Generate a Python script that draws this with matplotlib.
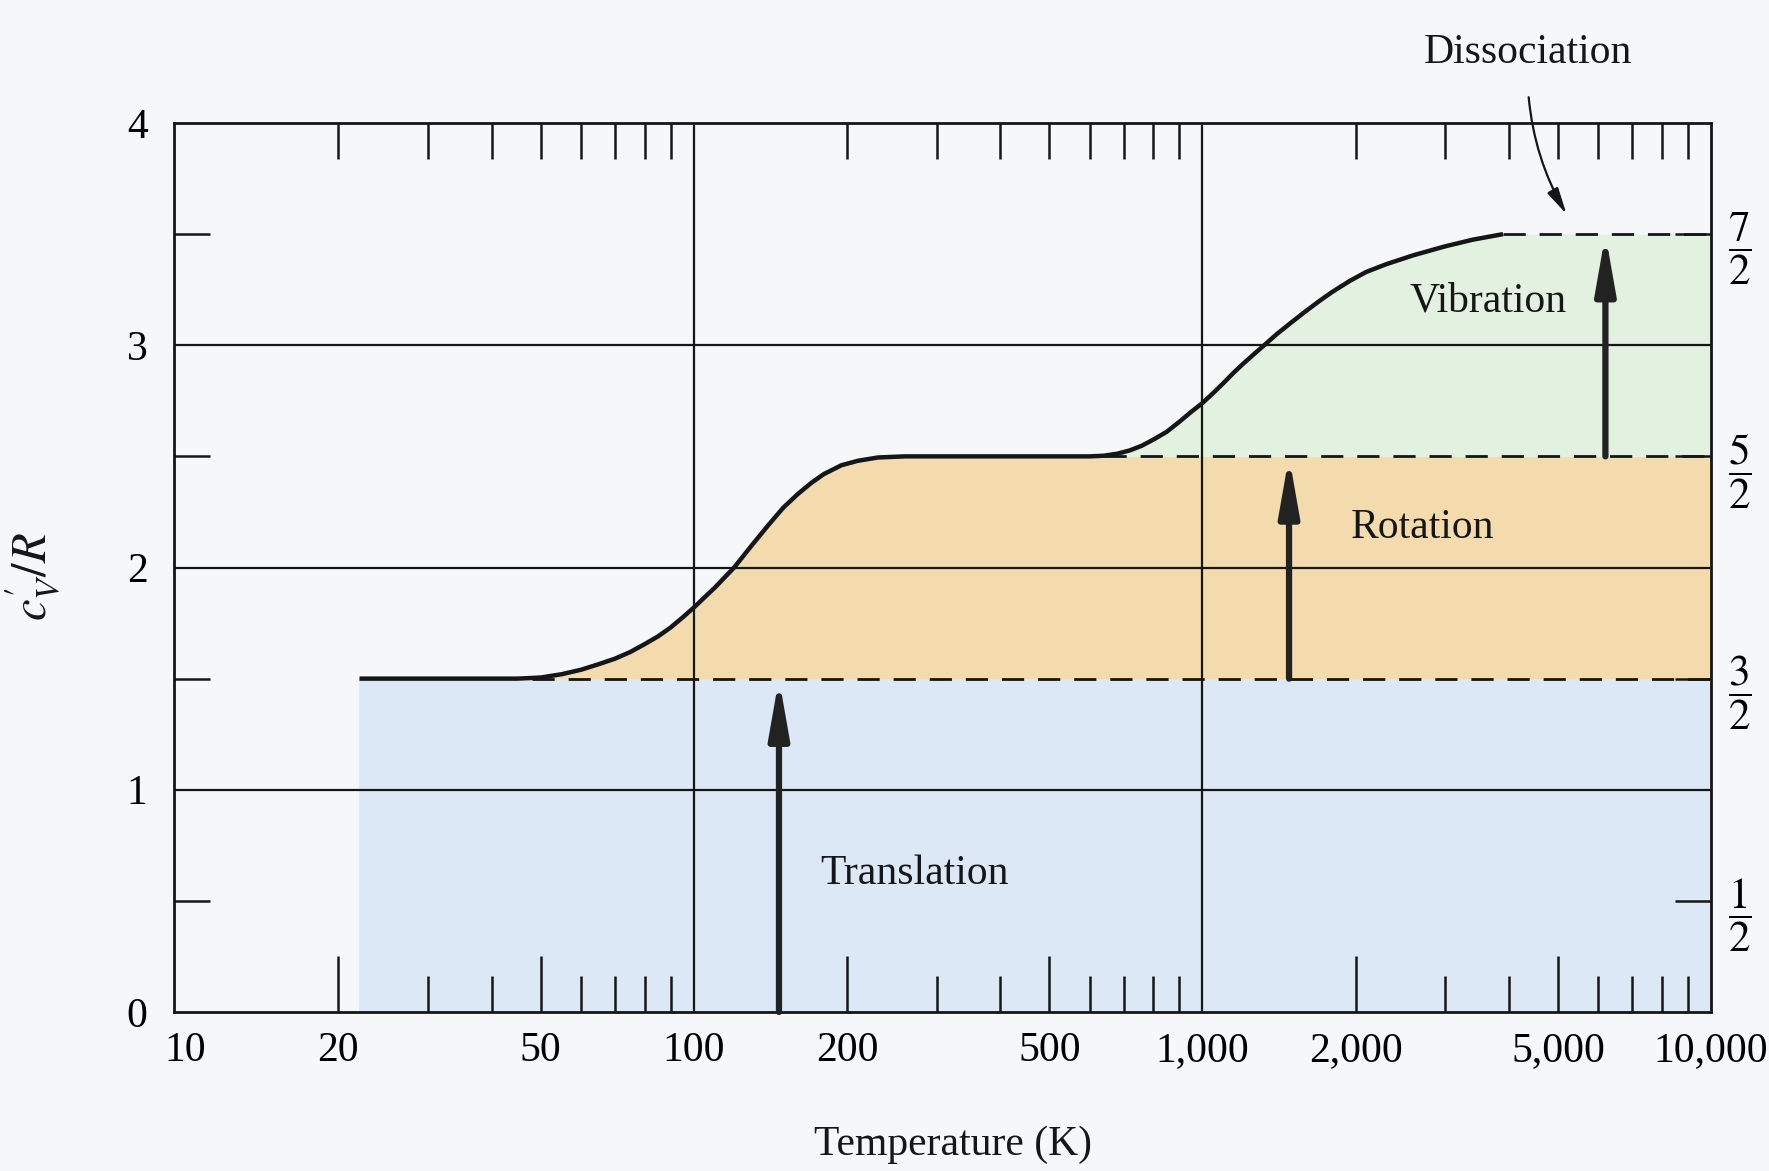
import numpy as np
import matplotlib
matplotlib.use('Agg')
import matplotlib.pyplot as plt

plt.rcParams['font.family'] = ['Liberation Serif', 'DejaVu Serif']
plt.rcParams['mathtext.fontset'] = 'stix'

# ---------------- data ----------------
temperature_K = [22, 30, 40, 45, 50, 55, 60, 65, 70, 75, 80, 85, 90, 95,
                 100, 110, 120, 130, 140, 150, 160, 170, 180, 195, 210, 230,
                 260, 300, 400, 500, 600, 640, 680, 720, 760, 800, 850, 900,
                 950, 1000, 1050, 1100, 1150, 1200, 1270, 1330, 1400, 1500,
                 1600, 1700, 1800, 1950, 2100, 2300, 2600, 3000, 3400, 3900]
cv_over_R = [1.5, 1.5, 1.5, 1.5, 1.505, 1.52, 1.54, 1.565, 1.59, 1.62, 1.655,
             1.69, 1.73, 1.775, 1.82, 1.91, 2.0, 2.10, 2.19, 2.27, 2.33, 2.38,
             2.42, 2.46, 2.48, 2.495, 2.5, 2.5, 2.5, 2.5, 2.5, 2.503, 2.512,
             2.527, 2.548, 2.575, 2.61, 2.655, 2.70, 2.74, 2.785, 2.83, 2.875,
             2.915, 2.965, 3.005, 3.05, 3.105, 3.155, 3.20, 3.24, 3.29, 3.33,
             3.365, 3.405, 3.445, 3.475, 3.5]

translation_level = 1.5
rotation_level = 2.5
vibration_level = 3.5
translation_start_K = 22
rotation_start_K = 48
vibration_start_K = 640
dissociation_start_K = 3900
T_max = 10000

translation_arrow_K = 147
rotation_arrow_K = 1480
vibration_arrow_K = 6200

x_labeled = [10, 20, 50, 100, 200, 500, 1000, 2000, 5000, 10000]
x_labels = ['10', '20', '50', '100', '200', '500', '1,000', '2,000', '5,000', '10,000']
x_no_mark = [10, 100, 1000, 10000]
x_minor_bottom = [30, 40, 60, 70, 80, 90, 300, 400, 600, 700, 800, 900,
                  3000, 4000, 6000, 7000, 8000, 9000]
x_top = [20, 30, 40, 50, 60, 70, 80, 90, 200, 300, 400, 500, 600, 700, 800, 900,
         2000, 3000, 4000, 5000, 6000, 7000, 8000, 9000]
y_labeled = [0, 1, 2, 3, 4]
y_half = [0.5, 1.5, 2.5, 3.5]
y_half_labels = [r'$\dfrac{1}{2}$', r'$\dfrac{3}{2}$', r'$\dfrac{5}{2}$', r'$\dfrac{7}{2}$']
v_grid = [100, 1000]
h_grid = [1, 2, 3]

region_labels = ['Translation', 'Rotation', 'Vibration']
region_label_pos = [(272, 0.62), (2706, 2.18), (3637, 3.20)]

# ---------------- figure ----------------
bg = '#f6f7f9'
blue = '#dce8f5'
tan = '#f3dbad'
green = '#e3f1e0'
ink = '#161616'

fig = plt.figure(figsize=(17.69, 11.71), dpi=100, facecolor=bg)
ax = fig.add_axes([174/1769, 1-1012/1171, (1711-174)/1769, (1012-123)/1171])
ax.set_facecolor(bg)
ax.set_xscale('log')
ax.set_xlim(9.5, T_max)
ax.set_ylim(0, 4)

T = np.array(temperature_K + [T_max], dtype=float)
cv = np.array(cv_over_R + [vibration_level], dtype=float)

# shaded regions
ax.fill_between([translation_start_K, T_max], 0, translation_level,
                color=blue, lw=0, zorder=0)
ax.fill_between(T, translation_level, np.minimum(cv, rotation_level),
                color=tan, lw=0, zorder=0)
ax.fill_between(T, rotation_level, np.maximum(cv, rotation_level),
                color=green, lw=0, zorder=0)

# grid lines
for g in v_grid:
    ax.axvline(g, color=ink, lw=1.6, zorder=1)
for g in h_grid:
    ax.axhline(g, color=ink, lw=1.6, zorder=1)

# dashed plateau lines
dash = (0, (8, 5))
ax.hlines(translation_level, rotation_start_K, T_max, colors=ink, lw=2, linestyles=dash, zorder=2)
ax.hlines(rotation_level, vibration_start_K, T_max, colors=ink, lw=2, linestyles=dash, zorder=2)
ax.hlines(vibration_level, dissociation_start_K, T_max, colors=ink, lw=2, linestyles=dash, zorder=2)

# curve
ax.plot(temperature_K, cv_over_R, color=ink, lw=3.2, solid_capstyle='butt',
        solid_joinstyle='round', zorder=3)

# arrows
aprops = dict(arrowstyle='-|>,head_length=1.7,head_width=0.3', lw=4.5,
              color='#222222', shrinkA=0, shrinkB=0, mutation_scale=20)
for xa, y0, y1 in [(translation_arrow_K, 0, translation_level),
                   (rotation_arrow_K, translation_level, rotation_level),
                   (vibration_arrow_K, rotation_level, vibration_level)]:
    ax.annotate('', xy=(xa, y1), xytext=(xa, y0), arrowprops=aprops, zorder=4)

for lab, (lx, ly) in zip(region_labels, region_label_pos):
    ax.text(lx, ly, lab, fontsize=30, ha='center', va='center', color=ink, zorder=5)

ax.annotate('Dissociation', xy=(5200, 3.59), xytext=(4365, 4.315),
            fontsize=30, ha='center', va='center', color=ink,
            annotation_clip=False,
            arrowprops=dict(arrowstyle='-|>,head_length=0.8,head_width=0.18',
                            connectionstyle='arc3,rad=0.15', lw=1.6,
                            color=ink, shrinkA=16, shrinkB=0, mutation_scale=20))

# spines
for s in ax.spines.values():
    s.set_linewidth(2.0)
    s.set_color(ink)

# x ticks
ax.set_xticks(x_labeled)
ax.set_xticklabels(x_labels, fontsize=30)
ax.set_xticks(x_minor_bottom, minor=True)
ax.xaxis.set_minor_formatter(matplotlib.ticker.NullFormatter())
ax.tick_params(axis='x', which='major', direction='in', length=40, width=1.8,
               color=ink, pad=14, top=False, bottom=True)
ax.tick_params(axis='x', which='minor', direction='in', length=26, width=1.8,
               color=ink, top=False, bottom=True)
for tk, v in zip(ax.xaxis.get_major_ticks(), x_labeled):
    if v in x_no_mark:
        tk.tick1line.set_visible(False)

secx = ax.secondary_xaxis('top')
secx.set_xticks(x_top)
secx.set_xticklabels([''] * len(x_top))
secx.xaxis.set_minor_locator(matplotlib.ticker.NullLocator())
secx.tick_params(axis='x', which='major', direction='in', length=26, width=1.8, color=ink)
secx.spines['top'].set_visible(False)

# y ticks
ax.set_yticks(y_labeled)
ax.set_yticklabels([str(v) for v in y_labeled], fontsize=30)
ax.set_yticks(y_half, minor=True)
ax.tick_params(axis='y', which='major', length=0, pad=19)
ax.tick_params(axis='y', which='minor', direction='in', length=26, width=1.8,
               color=ink, left=True, right=False)

secy = ax.secondary_yaxis('right')
secy.set_yticks(y_half)
secy.set_yticklabels(y_half_labels, fontsize=31)
secy.yaxis.set_minor_locator(matplotlib.ticker.NullLocator())
secy.tick_params(axis='y', which='major', direction='in', length=26, width=1.8,
                 color=ink, pad=12)
secy.spines['right'].set_visible(False)

ax.set_ylabel(r"$c^{\prime}_{V}/R$", fontsize=35, color=ink)
ax.yaxis.set_label_coords(-0.072, 0.49)
ax.set_xlabel('Temperature (K)', fontsize=30, color=ink)
ax.xaxis.set_label_coords(0.507, -0.128)

fig.savefig('out.png', dpi=100, facecolor=bg)
